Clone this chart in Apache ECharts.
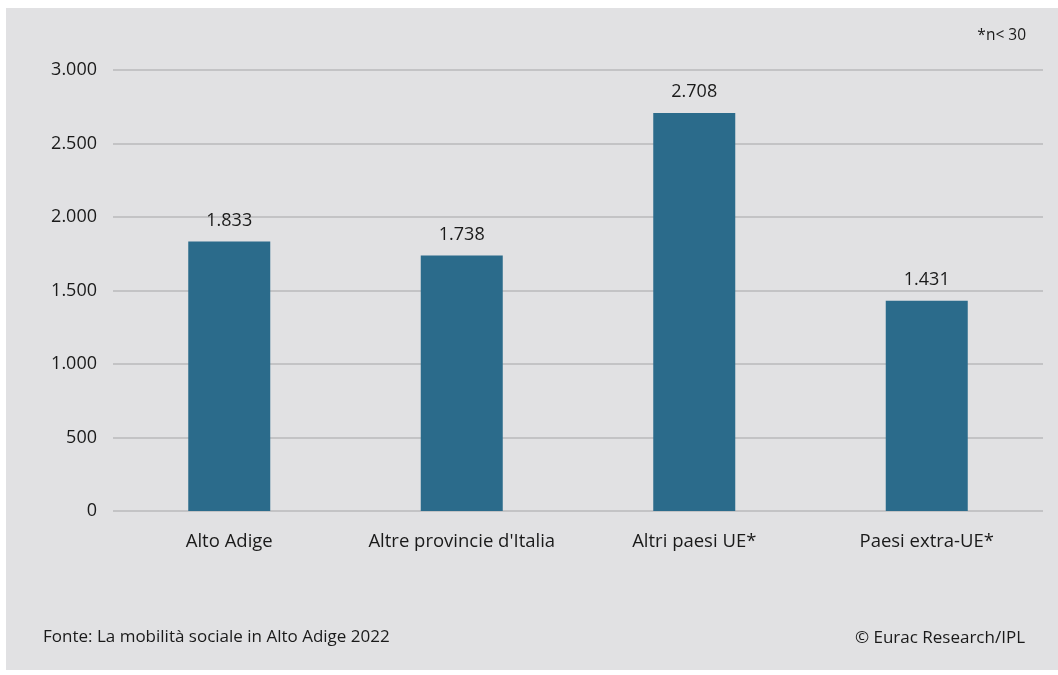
<!DOCTYPE html>
<html>
<head>
<meta charset="utf-8">
<script src="https://cdn.jsdelivr.net/npm/echarts@6/dist/echarts.min.js"></script>
<style>
html,body{margin:0;padding:0;background:#ffffff;}
#wrap{position:absolute;left:6px;top:8px;width:1052px;height:662px;background:#e1e1e3;}
#chart{position:absolute;left:0;top:0;width:1058px;height:675px;}
</style>
</head>
<body>
<div id="wrap"></div>
<div id="chart"></div>
<script>
const categories = ["Alto Adige", "Altre provincie d'Italia", "Altri paesi UE*", "Paesi extra-UE*"];
const values = [1833, 1738, 2708, 1431];
const yTicks = [0, 500, 1000, 1500, 2000, 2500, 3000];

function fmt(v){ return String(v).replace(/\B(?=(\d{3})+(?!\d))/g, '.'); }

const FONT = '"Open Sans", "Noto Sans", sans-serif';
const chart = echarts.init(document.getElementById('chart'), null, {renderer:'canvas'});
chart.setOption({
  backgroundColor: 'transparent',
  animation: false,
  grid: {left: 113, right: 15, top: 70, bottom: 164},
  xAxis: {
    type: 'category',
    data: categories,
    axisLine: {show: false},
    axisTick: {show: false},
    axisLabel: {color: '#1a1a1a', fontFamily: FONT, fontSize: 18.5, margin: 21, interval: 0, hideOverlap: false}
  },
  yAxis: {
    type: 'value',
    min: yTicks[0],
    max: yTicks[yTicks.length-1],
    interval: 500,
    axisLine: {show: false},
    axisTick: {show: false},
    splitLine: {lineStyle: {color: '#c3c3c5', width: 2}},
    axisLabel: {color: '#1a1a1a', fontFamily: FONT, fontSize: 18, margin: 16, formatter: fmt}
  },
  series: [{
    type: 'bar',
    data: values,
    barWidth: 82,
    itemStyle: {color: '#2b6b8b'},
    label: {show: true, position: 'top', distance: 12, color: '#1a1a1a', fontFamily: FONT, fontSize: 18, formatter: p => fmt(p.value)}
  }],
  graphic: [
    {type: 'text', right: 32, top: 28, style: {text: '*n< 30', fill: '#1a1a1a', font: '15.5px ' + FONT}},
    {type: 'text', left: 43, top: 629, style: {text: 'Fonte: La mobilità sociale in Alto Adige 2022', fill: '#1a1a1a', font: '17px ' + FONT}},
    {type: 'text', right: 33, top: 630, style: {text: '© Eurac Research/IPL', fill: '#1a1a1a', font: '17px ' + FONT}}
  ]
});
</script>
</body>
</html>
